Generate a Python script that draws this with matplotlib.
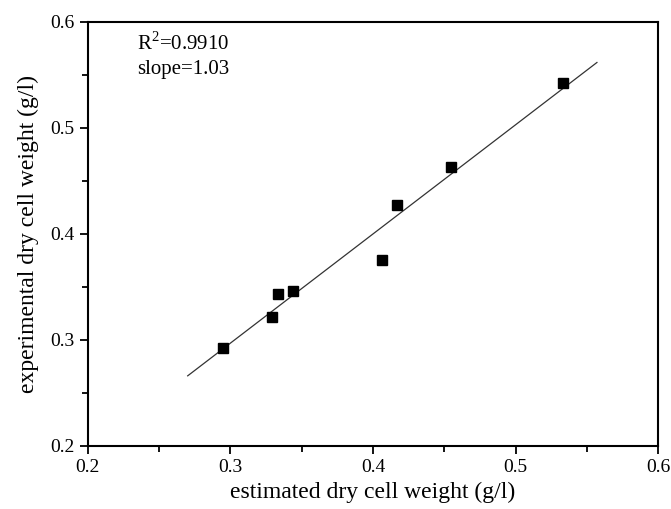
import matplotlib
matplotlib.use('Agg')
import matplotlib.pyplot as plt
import numpy as np
from matplotlib.ticker import MultipleLocator

# estimated vs experimental dry cell weight (g/l)
estimated = [0.295, 0.329, 0.333, 0.344, 0.406, 0.417, 0.455, 0.533]
experimental = [0.292, 0.322, 0.343, 0.346, 0.375, 0.427, 0.463, 0.542]
fit_x = [0.27, 0.557]
fit_slope = 1.03
fit_intercept = -0.012
fit_y = [fit_slope * x + fit_intercept for x in fit_x]

plt.rcParams['font.family'] = 'Liberation Serif'

fig = plt.figure(figsize=(6.71, 5.09), dpi=100)
ax = fig.add_axes([0.131, 0.124, 0.85, 0.833])

ax.plot(fit_x, fit_y, color='#333333', lw=0.9)
ax.plot(estimated, experimental, 's', color='black', ms=6.5)

ax.set_xlim(0.2, 0.6)
ax.set_ylim(0.2, 0.6)
ax.xaxis.set_major_locator(MultipleLocator(0.1))
ax.yaxis.set_major_locator(MultipleLocator(0.1))
ax.xaxis.set_minor_locator(MultipleLocator(0.05))
ax.yaxis.set_minor_locator(MultipleLocator(0.05))
ax.xaxis.set_major_formatter(matplotlib.ticker.FormatStrFormatter('%.1f'))
ax.yaxis.set_major_formatter(matplotlib.ticker.FormatStrFormatter('%.1f'))
ax.tick_params(which='major', direction='out', length=6, width=1.3, labelsize=14)
ax.tick_params(which='minor', direction='out', length=4, width=1.3)
for s in ax.spines.values():
    s.set_linewidth(1.5)

ax.set_xlabel('estimated dry cell weight (g/l)', fontsize=17, labelpad=4)
ax.set_ylabel('experimental dry cell weight (g/l)', fontsize=17, labelpad=8)

ax.text(0.086, 0.95, r'R$^\mathregular{2}$=0.9910', transform=ax.transAxes,
        fontsize=15, va='center')
ax.text(0.086, 0.887, 'slope=1.03', transform=ax.transAxes,
        fontsize=15, va='center')

fig.savefig('out.png', dpi=100)
